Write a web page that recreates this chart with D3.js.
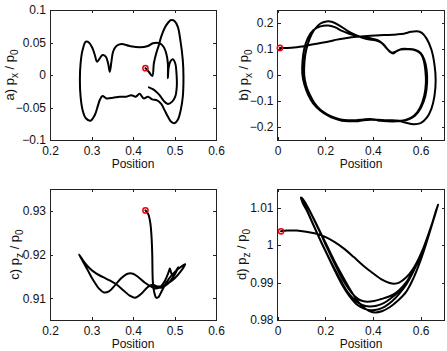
<!DOCTYPE html>
<html>
<head>
<meta charset="utf-8">
<script src="https://cdn.jsdelivr.net/npm/d3@7"></script>
<style>
    body {
        margin: 0;
        background: #fff;
    }
    text {
        font-family: "Liberation Sans", Arial, sans-serif;
    }
</style>
</head>
<body>
<script>
    // trajectories: [position, momentum]
    const trajA = [
        [0.430, 0.0105], [0.438, 0.005], [0.4465, -0.0015], [0.4503, 0.018], [0.456, 0.0334],
        [0.4623, 0.046], [0.468, 0.059], [0.476, 0.072], [0.484, 0.080], [0.492, 0.0846],
        [0.500, 0.083], [0.508, 0.074], [0.514, 0.054], [0.520, 0.023], [0.5216, -0.0026],
        [0.520, -0.0334], [0.515, -0.054], [0.508, -0.069], [0.500, -0.0743], [0.492, -0.072],
        [0.484, -0.064], [0.476, -0.054], [0.468, -0.0445], [0.458, -0.039], [0.446, -0.0375],
        [0.436, -0.0334], [0.4256, -0.036], [0.416, -0.029], [0.4064, -0.0334], [0.396, -0.031],
        [0.384, -0.0334], [0.368, -0.0334], [0.352, -0.035], [0.336, -0.036], [0.3264, -0.0323],
        [0.320, -0.0385], [0.316, -0.046], [0.308, -0.0615], [0.2977, -0.0703], [0.2864, -0.0666],
        [0.2785, -0.0538], [0.2737, -0.0334], [0.272, -0.0077], [0.2737, 0.018], [0.2785, 0.0385],
        [0.2864, 0.0512], [0.2943, 0.0497], [0.3025, 0.041], [0.308, 0.0308], [0.3135, 0.0205],
        [0.320, 0.0257], [0.3265, 0.0308], [0.3344, 0.0282], [0.340, 0.018], [0.344, 0.005],
        [0.348, 0.0205], [0.352, 0.0358], [0.360, 0.0446], [0.372, 0.0477], [0.392, 0.0446],
        [0.416, 0.0426], [0.436, 0.0446], [0.448, 0.0488], [0.464, 0.0488], [0.4736, 0.0435],
        [0.480, 0.0334], [0.484, 0.018], [0.484, -0.005], [0.4856, 0.0103], [0.4897, 0.0205],
        [0.496, 0.0242], [0.5017, 0.018], [0.5048, 0.0026], [0.5055, -0.018], [0.5017, -0.0334],
        [0.4945, -0.041], [0.484, -0.0446], [0.4736, -0.0395], [0.464, -0.0308], [0.456, -0.0257],
        [0.4465, -0.0215], [0.4383, -0.019]
    ];

    const trajB = [
        [0.010, 0.104], [0.040, 0.104], [0.080, 0.107], [0.110, 0.111], [0.150, 0.118],
        [0.180, 0.123], [0.220, 0.130], [0.250, 0.136], [0.290, 0.142], [0.320, 0.146],
        [0.360, 0.149], [0.390, 0.151], [0.430, 0.153], [0.460, 0.154], [0.500, 0.156],
        [0.530, 0.159], [0.560, 0.166], [0.585, 0.168], [0.605, 0.162], [0.625, 0.140],
        [0.645, 0.098], [0.658, 0.040], [0.663, -0.020], [0.658, -0.080], [0.645, -0.130],
        [0.625, -0.165], [0.600, -0.185], [0.570, -0.189], [0.540, -0.184], [0.510, -0.177],
        [0.480, -0.174], [0.450, -0.174], [0.420, -0.172], [0.390, -0.169], [0.360, -0.171],
        [0.330, -0.174], [0.300, -0.174], [0.270, -0.172], [0.240, -0.164], [0.210, -0.152],
        [0.180, -0.134], [0.155, -0.108], [0.135, -0.075], [0.120, -0.040], [0.112, 0.000],
        [0.113, 0.050], [0.120, 0.095], [0.135, 0.140], [0.155, 0.175], [0.180, 0.198],
        [0.205, 0.206], [0.230, 0.204], [0.260, 0.190], [0.290, 0.172], [0.320, 0.157],
        [0.350, 0.145], [0.380, 0.137], [0.410, 0.134], [0.435, 0.124], [0.455, 0.105],
        [0.470, 0.090], [0.485, 0.083], [0.500, 0.092], [0.520, 0.100], [0.550, 0.100],
        [0.575, 0.097], [0.600, 0.085], [0.615, 0.060], [0.625, 0.020], [0.627, -0.030],
        [0.620, -0.080], [0.602, -0.125], [0.575, -0.158], [0.545, -0.172], [0.510, -0.176],
        [0.480, -0.177], [0.450, -0.176], [0.420, -0.173], [0.390, -0.172], [0.360, -0.174],
        [0.330, -0.178], [0.300, -0.178], [0.270, -0.176], [0.240, -0.168], [0.210, -0.155],
        [0.180, -0.137], [0.150, -0.110], [0.128, -0.075], [0.112, -0.035], [0.104, 0.005],
        [0.105, 0.055], [0.112, 0.100], [0.127, 0.142], [0.150, 0.172], [0.180, 0.187],
        [0.212, 0.190], [0.240, 0.184], [0.270, 0.170], [0.300, 0.158], [0.330, 0.150],
        [0.360, 0.145], [0.390, 0.141], [0.420, 0.134], [0.445, 0.117], [0.462, 0.098],
        [0.480, 0.086], [0.495, 0.090], [0.515, 0.098], [0.545, 0.099], [0.575, 0.096],
        [0.600, 0.082], [0.613, 0.055], [0.620, 0.015], [0.622, -0.030], [0.615, -0.080],
        [0.598, -0.125], [0.572, -0.157], [0.540, -0.172], [0.500, -0.178], [0.460, -0.178],
        [0.420, -0.175]
    ];

    const trajC = [
        [0.430, 0.9301], [0.437, 0.9292], [0.442, 0.9270], [0.445, 0.9235], [0.4465, 0.9195],
        [0.447, 0.9160], [0.448, 0.9135], [0.451, 0.9114], [0.456, 0.9101], [0.461, 0.9102],
        [0.469, 0.9116], [0.480, 0.9135], [0.493, 0.9152], [0.508, 0.9166], [0.526, 0.9178],
        [0.514, 0.9160], [0.500, 0.9145], [0.486, 0.9135], [0.472, 0.9128], [0.458, 0.9127],
        [0.446, 0.9131], [0.435, 0.9125], [0.420, 0.9110], [0.405, 0.9101], [0.392, 0.9106],
        [0.378, 0.9117], [0.362, 0.9130], [0.345, 0.9140], [0.328, 0.9148], [0.312, 0.9156],
        [0.296, 0.9168], [0.283, 0.9182], [0.270, 0.9200], [0.280, 0.9183], [0.292, 0.9162],
        [0.305, 0.9140], [0.318, 0.9122], [0.330, 0.9113], [0.343, 0.9116], [0.357, 0.9130],
        [0.372, 0.9146], [0.387, 0.9156], [0.400, 0.9156], [0.413, 0.9148], [0.428, 0.9136],
        [0.443, 0.9127], [0.455, 0.9122], [0.466, 0.9126], [0.477, 0.9140], [0.486, 0.9160],
        [0.489, 0.9168], [0.492, 0.9158], [0.496, 0.9152], [0.502, 0.9160], [0.509, 0.9171],
        [0.498, 0.9150], [0.484, 0.9133], [0.468, 0.9124], [0.455, 0.9126], [0.448, 0.9130]
    ];

    const trajD = [
        // first pass from the start point
        [0.015, 1.0037], [0.040, 1.0039], [0.080, 1.0039], [0.120, 1.0036], [0.160, 1.0031],
        [0.200, 1.0022], [0.240, 1.0008], [0.280, 0.9990], [0.320, 0.9968], [0.360, 0.9945],
        [0.400, 0.9925], [0.440, 0.9907], [0.470, 0.9899], [0.490, 0.9897], [0.510, 0.9900],
        [0.540, 0.9914], [0.570, 0.9938], [0.600, 0.9975], [0.630, 1.0022], [0.655, 1.0070],
        [0.673, 1.0108],
        // back and forth
        [0.655, 1.0070], [0.630, 1.0018], [0.600, 0.9960], [0.570, 0.9912], [0.540, 0.9876],
        [0.505, 0.9852], [0.470, 0.9834], [0.440, 0.9824], [0.410, 0.9820], [0.385, 0.9824],
        [0.360, 0.9834], [0.330, 0.9856], [0.300, 0.9886], [0.270, 0.9920], [0.240, 0.9956],
        [0.210, 0.9995], [0.180, 1.0034], [0.150, 1.0073], [0.125, 1.0104], [0.105, 1.0124],
        [0.098, 1.0127],
        [0.100, 1.0122], [0.120, 1.0098], [0.145, 1.0062], [0.175, 1.0020], [0.205, 0.9980],
        [0.235, 0.9942], [0.265, 0.9906], [0.295, 0.9874], [0.325, 0.9853], [0.355, 0.9840],
        [0.385, 0.9836], [0.415, 0.9838], [0.445, 0.9845], [0.475, 0.9858], [0.505, 0.9874],
        [0.535, 0.9896], [0.565, 0.9928], [0.595, 0.9965], [0.625, 1.0012], [0.650, 1.0062],
        [0.670, 1.0104],
        [0.668, 1.0098], [0.645, 1.0052], [0.615, 0.9998], [0.585, 0.9952], [0.555, 0.9915],
        [0.525, 0.9890], [0.495, 0.9872], [0.465, 0.9862], [0.435, 0.9856], [0.405, 0.9851],
        [0.375, 0.9849], [0.350, 0.9852], [0.325, 0.9863], [0.300, 0.9882], [0.270, 0.9912],
        [0.240, 0.9950], [0.210, 0.9990], [0.180, 1.0032], [0.150, 1.0072], [0.125, 1.0103],
        [0.108, 1.0120],
        [0.103, 1.0118], [0.125, 1.0090], [0.150, 1.0054], [0.180, 1.0012], [0.210, 0.9972],
        [0.240, 0.9932], [0.270, 0.9895], [0.300, 0.9865], [0.330, 0.9843], [0.360, 0.9831],
        [0.390, 0.9826], [0.420, 0.9828], [0.450, 0.9836], [0.480, 0.9850], [0.510, 0.9870],
        [0.540, 0.9895], [0.570, 0.9930], [0.600, 0.9972], [0.630, 1.0022], [0.655, 1.0070],
        [0.672, 1.0106]
    ];

    // ticks
    const xTicksLeft = [0.2, 0.3, 0.4, 0.5, 0.6];
    const xTickLabelsLeft = ["0.2", "0.3", "0.4", "0.5", "0.6"];
    const xTicksRight = [0, 0.2, 0.4, 0.6];
    const xTickLabelsRight = ["0", "0.2", "0.4", "0.6"];
    const yTicksA = [-0.1, -0.05, 0, 0.05, 0.1];
    const yTickLabelsA = ["\u22120.1", "\u22120.05", "0", "0.05", "0.1"];
    const yTicksB = [-0.2, -0.1, 0, 0.1, 0.2];
    const yTickLabelsB = ["\u22120.2", "\u22120.1", "0", "0.1", "0.2"];
    const yTicksC = [0.91, 0.92, 0.93];
    const yTickLabelsC = ["0.91", "0.92", "0.93"];
    const yTicksD = [0.98, 0.99, 1, 1.01];
    const yTickLabelsD = ["0.98", "0.99", "1", "1.01"];

    const panels = [
        {data: trajA, xDomain: [0.2, 0.6], yDomain: [-0.1, 0.1], left: 50, right: 216, top: 10, bottom: 140,
            xTicks: xTicksLeft, xLabels: xTickLabelsLeft, yTicks: yTicksA, yLabels: yTickLabelsA,
            name: ["a) p", "x", " / p", "0"], labelX: 14},
        {data: trajB, xDomain: [0, 0.7], yDomain: [-0.25, 0.25], left: 277.5, right: 444.5, top: 10, bottom: 140,
            xTicks: xTicksRight, xLabels: xTickLabelsRight, yTicks: yTicksB, yLabels: yTickLabelsB,
            name: ["b) p", "x", " / p", "0"], labelX: 248},
        {data: trajC, xDomain: [0.2, 0.6], yDomain: [0.905, 0.935], left: 50, right: 216, top: 189, bottom: 320,
            xTicks: xTicksLeft, xLabels: xTickLabelsLeft, yTicks: yTicksC, yLabels: yTickLabelsC,
            name: ["c) p", "z", " / p", "0"], labelX: 19},
        {data: trajD, xDomain: [0, 0.7], yDomain: [0.98, 1.015], left: 277.5, right: 444.5, top: 189, bottom: 320,
            xTicks: xTicksRight, xLabels: xTickLabelsRight, yTicks: yTicksD, yLabels: yTickLabelsD,
            name: ["d) p", "z", " / p", "0"], labelX: 246}
    ];

    const svg = d3.select("body").append("svg")
        .attr("width", 447)
        .attr("height", 351);

    function styleAxis(sel) {
        sel.attr("font-family", null).attr("font-size", null);
        sel.selectAll(".domain").remove();
        sel.selectAll("line").attr("stroke", "#222").attr("shape-rendering", "crispEdges");
        sel.selectAll("text").attr("fill", "#111").style("font-size", "12px");
    }

    function drawPanel(p) {
        const x = d3.scaleLinear().domain(p.xDomain).range([p.left, p.right]);
        const y = d3.scaleLinear().domain(p.yDomain).range([p.bottom, p.top]);
        const g = svg.append("g");

        g.append("g")
            .attr("transform", `translate(0,${p.bottom})`)
            .call(d3.axisBottom(x).tickValues(p.xTicks).tickFormat((d, i) => p.xLabels[i])
                .tickSizeInner(-3).tickSizeOuter(0).tickPadding(6))
            .call(styleAxis);
        g.append("g")
            .attr("transform", `translate(0,${p.top})`)
            .call(d3.axisTop(x).tickValues(p.xTicks).tickFormat("").tickSizeInner(-3).tickSizeOuter(0))
            .call(styleAxis);
        g.append("g")
            .attr("transform", `translate(${p.left},0)`)
            .call(d3.axisLeft(y).tickValues(p.yTicks).tickFormat((d, i) => p.yLabels[i])
                .tickSizeInner(-3).tickSizeOuter(0).tickPadding(4))
            .call(styleAxis);
        g.append("g")
            .attr("transform", `translate(${p.right},0)`)
            .call(d3.axisRight(y).tickValues(p.yTicks).tickFormat("").tickSizeInner(-3).tickSizeOuter(0))
            .call(styleAxis);

        g.append("rect")
            .attr("x", p.left).attr("y", p.top)
            .attr("width", p.right - p.left).attr("height", p.bottom - p.top)
            .attr("fill", "none").attr("stroke", "#222").attr("stroke-width", 1)
            .attr("shape-rendering", "crispEdges");

        const line = d3.line()
            .x(d => x(d[0]))
            .y(d => y(d[1]))
            .curve(d3.curveCatmullRom.alpha(0.5));

        g.append("path")
            .datum(p.data)
            .attr("d", line)
            .attr("fill", "none")
            .attr("stroke", "#000")
            .attr("stroke-width", 2)
            .attr("stroke-linejoin", "round")
            .attr("stroke-linecap", "round");

        // start marker
        g.append("circle")
            .attr("cx", x(p.data[0][0]))
            .attr("cy", y(p.data[0][1]))
            .attr("r", 2.6)
            .attr("fill", "none")
            .attr("stroke", "#e8000b")
            .attr("stroke-width", 1.5);

        g.append("text")
            .attr("x", (p.left + p.right) / 2)
            .attr("y", p.bottom + 27.5)
            .attr("text-anchor", "middle")
            .style("font-size", "12px")
            .attr("fill", "#111")
            .text("Position");

        const yl = g.append("text")
            .attr("transform", `translate(${p.labelX},${(p.top + p.bottom) / 2}) rotate(-90)`)
            .attr("text-anchor", "middle")
            .style("font-size", "13px")
            .attr("fill", "#111");
        yl.append("tspan").text(p.name[0]);
        yl.append("tspan").attr("dy", 3.5).style("font-size", "10px").text(p.name[1]);
        yl.append("tspan").attr("dy", -3.5).text(p.name[2]);
        yl.append("tspan").attr("dy", 3.5).style("font-size", "10px").text(p.name[3]);
    }

    panels.forEach(drawPanel);
</script>
</body>
</html>
